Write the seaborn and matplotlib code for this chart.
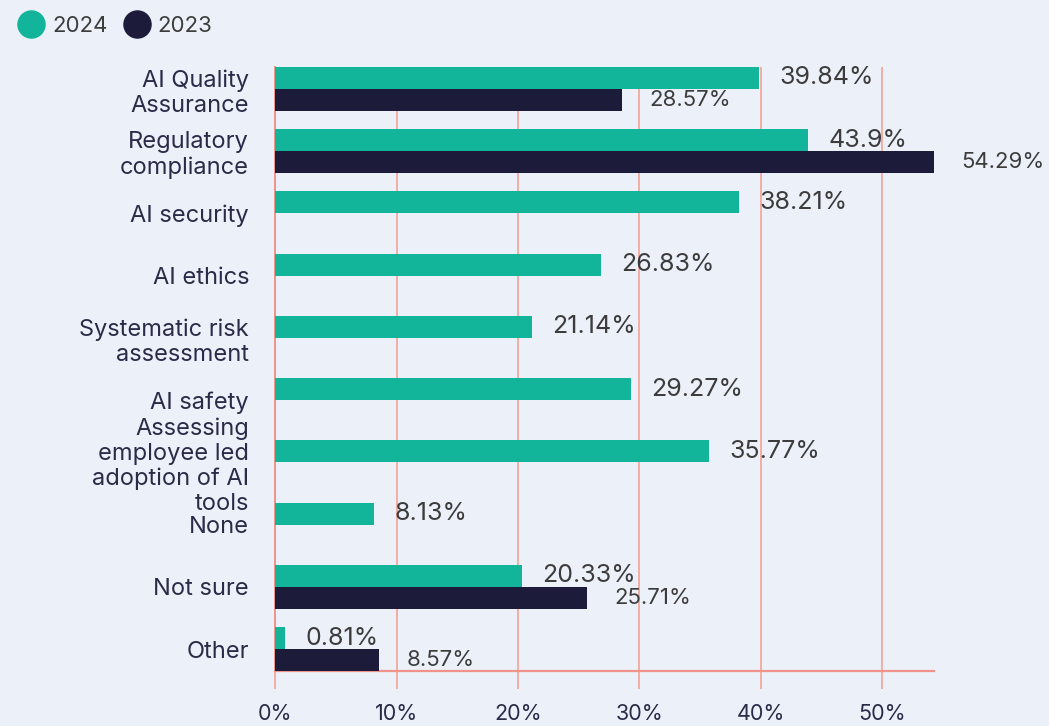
import matplotlib
matplotlib.use("Agg")
import matplotlib.pyplot as plt
from matplotlib.lines import Line2D
import numpy as np
import pandas as pd
import seaborn as sns

categories = [
    "AI Quality\nAssurance",
    "Regulatory\ncompliance",
    "AI security",
    "AI ethics",
    "Systematic risk\nassessment",
    "AI safety",
    "Assessing\nemployee led\nadoption of AI\ntools",
    "None",
    "Not sure",
    "Other",
]
values_2024 = [39.84, 43.9, 38.21, 26.83, 21.14, 29.27, 35.77, 8.13, 20.33, 0.81]
values_2023 = [28.57, 54.29, None, None, None, None, None, None, 25.71, 8.57]
years = ["2024", "2023"]
x_ticks = [0, 10, 20, 30, 40, 50]
x_tick_labels = ["0%", "10%", "20%", "30%", "40%", "50%"]

BG = "#ECF0F9"
TEAL = "#12B59A"
NAVY = "#1C1C3A"
GRID = "#F4ADA4"
SPINE = "#F0938A"
TICK_TEXT = "#2B2B48"
LABEL_TEXT = "#3C3C3C"

rows = []
for cat, v24, v23 in zip(categories, values_2024, values_2023):
    rows.append({"category": cat, "year": "2024", "value": v24})
    rows.append({"category": cat, "year": "2023", "value": v23})
df = pd.DataFrame(rows).dropna()

sns.set_theme(style="white")
plt.rcParams["font.family"] = ["Inter", "DejaVu Sans"]

fig = plt.figure(figsize=(10.49, 7.26), dpi=100, facecolor=BG)
ax = fig.add_axes([0.2626, 0.0758, 0.8904 - 0.2626, 0.9077 - 0.0758])
ax.set_facecolor(BG)

bar_w = 0.706
sns.barplot(
    data=df, y="category", x="value", hue="year",
    order=categories, hue_order=years,
    palette={"2024": TEAL, "2023": NAVY},
    orient="h", width=bar_w, dodge=True, saturation=1,
    legend=False, ax=ax, zorder=3, linewidth=0, edgecolor="none",
)

half = bar_w / 2
ax.set_xlim(0, max(v for v in values_2023 if v is not None))
ax.set_ylim(len(categories) - 1 + half, -half)

# value labels next to each bar
for i, (v24, v23) in enumerate(zip(values_2024, values_2023)):
    ax.annotate(f"{v24:g}%", xy=(v24, i - half / 2), xytext=(14.5, 0),
                textcoords="offset points", va="center", ha="left",
                fontsize=18, color=LABEL_TEXT, zorder=4)
    if v23 is not None:
        ax.annotate(f"{v23:g}%", xy=(v23, i + half / 2), xytext=(19.5, 0),
                    textcoords="offset points", va="center", ha="left",
                    fontsize=16, color=LABEL_TEXT, zorder=4)

ax.set_xticks(x_ticks)
ax.set_xticklabels(x_tick_labels)
ax.xaxis.grid(True, color=GRID, linewidth=1.4, zorder=0)
ax.yaxis.grid(False)
ax.set_axisbelow(True)
ax.tick_params(axis="x", length=13, width=1.4, color=GRID, labelcolor=TICK_TEXT,
               labelsize=15.5, pad=11, bottom=True)
ax.tick_params(axis="y", length=0, labelsize=17, labelcolor=TICK_TEXT, pad=19)
for lbl in ax.get_yticklabels():
    lbl.set_linespacing(1.17)
ax.set_xlabel("")
ax.set_ylabel("")

for side in ["top", "right"]:
    ax.spines[side].set_visible(False)
ax.spines["bottom"].set_color(SPINE)
ax.spines["bottom"].set_linewidth(1.6)
ax.spines["left"].set_color(SPINE)
ax.spines["left"].set_linewidth(1.4)

handles = [
    Line2D([], [], marker="o", linestyle="none", markersize=19.5,
           markerfacecolor=TEAL, markeredgecolor=TEAL, label="2024"),
    Line2D([], [], marker="o", linestyle="none", markersize=19.5,
           markerfacecolor=NAVY, markeredgecolor=NAVY, label="2023"),
]
fig.legend(handles=handles, loc="upper left", bbox_to_anchor=(-0.002, 1.006),
           ncol=2, frameon=False, fontsize=16, labelcolor=LABEL_TEXT,
           handletextpad=0.35, columnspacing=0.7, handlelength=1.2)

fig.savefig("out.png", dpi=100, facecolor=BG)
